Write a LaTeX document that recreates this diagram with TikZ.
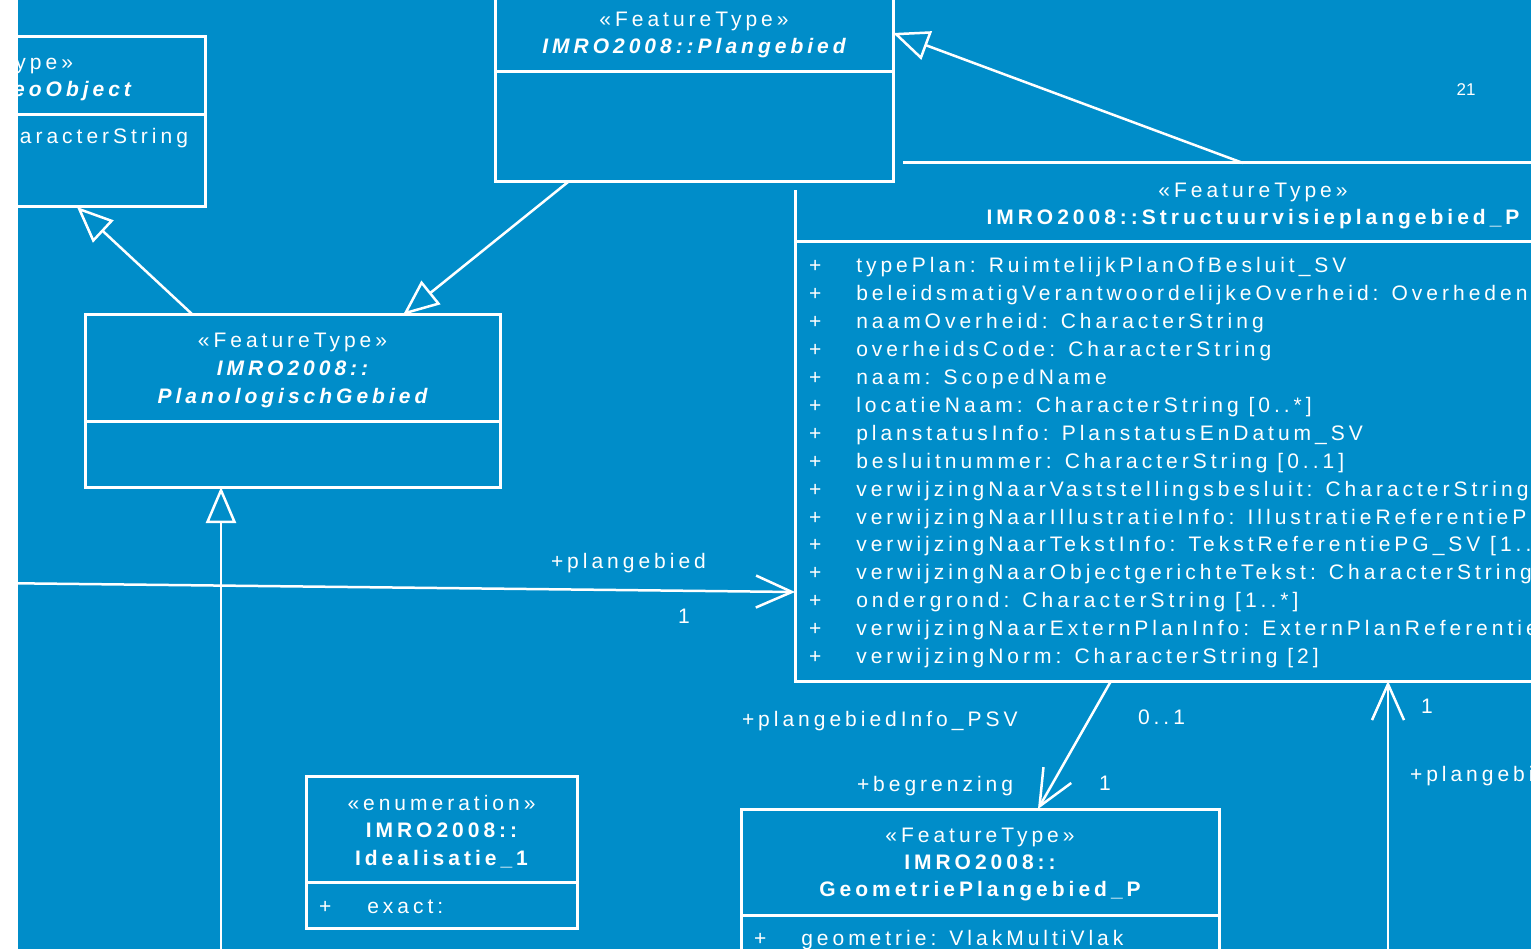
\documentclass[tikz,border=0pt]{standalone}
\usepackage{fontspec}
\usepackage{tikz}
\usetikzlibrary{arrows.meta}
\newfontfamily\umlfont{Liberation Sans}[LetterSpace=19]
\newfontfamily\pagefont{Liberation Sans}
\definecolor{umlblue}{RGB}{0,141,201}

\begin{document}
\begin{tikzpicture}[x=1pt,y=-1pt,>={Straight Barb[length=36pt,width=32pt]},
    every node/.style={inner sep=0pt,outer sep=0pt,text=white,font=\umlfont\fontsize{21}{27.9}\selectfont},
    umlbox/.style={draw=white,line width=3pt,fill=umlblue,anchor=north west},
    stereo/.style={anchor=base},
    clsname/.style={anchor=base,font=\umlfont\fontsize{21}{27.9}\selectfont\bfseries},
    absname/.style={anchor=base,font=\umlfont\fontsize{21}{27.9}\selectfont\bfseries\itshape},
    divider/.style={draw=white,line width=3pt},
    assoc/.style={draw=white,line width=2.5pt},
    gen/.style={assoc,-{Triangle[open,length=36pt,width=30pt]}},
    role/.style={anchor=base west}]
  \useasboundingbox (0,0) rectangle (1531,949);
  \fill[white] (0,0) rectangle (1531,949);
  \begin{scope}
    \clip (18,0) rectangle (1531,949);
    \fill[umlblue] (18,0) rectangle (1531,949);

    % Structuurvisieplangebied_P
    \node[umlbox,minimum width=916pt,minimum height=518pt] (structuur) at (795,163) {};
    \draw[divider] (structuur.west |- 0,242) -- (structuur.east |- 0,242);
    \node[stereo] (structuurst) at (1253,198) {«FeatureType»};
    \node[clsname] (structuurnm) at (1253,225) {IMRO2008::Structuurvisieplangebied\_P};
    \node[anchor=base west] (structuurattr) at (809,273) {
      \begin{tabular}[t]{@{}l@{\hspace{35pt}}l@{}}
        + & typePlan: RuimtelijkPlanOfBesluit\_SV\\
        + & beleidsmatigVerantwoordelijkeOverheid: Overheden\\
        + & naamOverheid: CharacterString\\
        + & overheidsCode: CharacterString\\
        + & naam: ScopedName\\
        + & locatieNaam: CharacterString [0..*]\\
        + & planstatusInfo: PlanstatusEnDatum\_SV\\
        + & besluitnummer: CharacterString [0..1]\\
        + & verwijzingNaarVaststellingsbesluit: CharacterString [0..1]\\
        + & verwijzingNaarIllustratieInfo: IllustratieReferentiePG\_SV\\
        + & verwijzingNaarTekstInfo: TekstReferentiePG\_SV [1..*]\\
        + & verwijzingNaarObjectgerichteTekst: CharacterString\\
        + & ondergrond: CharacterString [1..*]\\
        + & verwijzingNaarExternPlanInfo: ExternPlanReferentie\\
        + & verwijzingNorm: CharacterString [2]\\
      \end{tabular}
    };

    % Plangebied ligt boven de hoek van Structuurvisieplangebied_P
    \fill[umlblue] (485,-30) rectangle (903,190);
    \node[umlbox,minimum width=398pt,minimum height=212pt] (plangebied) at (495,-30) {};
    \draw[divider] (plangebied.west |- 0,72) -- (plangebied.east |- 0,72);
    \node[stereo] (plangebiedst) at (694,27) {«FeatureType»};
    \node[absname] (plangebiednm) at (694,54) {IMRO2008::Plangebied};

    % GeoObject
    \node[umlbox,minimum width=442pt,minimum height=170pt] (geoobject) at (-237,37) {};
    \draw[divider] (geoobject.west |- 0,115) -- (geoobject.east |- 0,115);
    \node[anchor=base east] (geoobjectst) at (73,70) {«FeatureType»};
    \node[absname,anchor=base east] (geoobjectnm) at (131,97) {IMRO2008::GeoObject};
    \node[anchor=base east] (geoobjectattr) at (188,144) {CharacterString};

    % PlanologischGebied
    \node[umlbox,minimum width=415pt,minimum height=172pt] (planol) at (85,315) {};
    \draw[divider] (planol.west |- 0,421) -- (planol.east |- 0,421);
    \node[stereo] (planolst) at (292.5,348) {«FeatureType»};
    \node[absname] (planolnma) at (292.5,375) {IMRO2008::};
    \node[absname] (planolnmb) at (292.5,403) {PlanologischGebied};

    % Idealisatie_1
    \node[umlbox,minimum width=271pt,minimum height=152pt] (ideal) at (306,776) {};
    \draw[divider] (ideal.west |- 0,882) -- (ideal.east |- 0,882);
    \node[stereo] (idealst) at (441.5,810) {«enumeration»};
    \node[clsname] (idealnma) at (441.5,837) {IMRO2008::};
    \node[clsname] (idealnmb) at (441.5,865) {Idealisatie\_1};
    \node[anchor=base west] (idealattr) at (319,913) {+\hspace{36pt}exact:};

    % GeometriePlangebied_P
    \node[umlbox,minimum width=478pt,minimum height=200pt] (geometrie) at (741,809) {};
    \draw[divider] (geometrie.west |- 0,915) -- (geometrie.east |- 0,915);
    \node[stereo] (geometriest) at (980,842) {«FeatureType»};
    \node[clsname] (geometrienma) at (980,869) {IMRO2008::};
    \node[clsname] (geometrienmb) at (980,896) {GeometriePlangebied\_P};
    \node[anchor=base west] (geometrieattr) at (754,945) {+\hspace{35pt}geometrie: VlakMultiVlak};

    % vrije uiteinden buiten beeld
    \coordinate (assocleft) at (-10,583);
    \coordinate (genbottom) at (221,960);
    \coordinate (assocbottom) at (1388,960);

    % generalisaties
    \draw[gen] ([xshift=-10pt]structuur.north) -- ([yshift=43pt]plangebied.east);
    \draw[gen] ([xshift=-99.5pt]planol.north) -- ([xshift=-128pt]geoobject.south east);
    \draw[gen] ([xshift=-126pt]plangebied.south) -- ([xshift=110.5pt]planol.north);
    \draw[gen] (genbottom) -- ([xshift=-71.5pt]planol.south);

    % associaties
    \draw[assoc,->] (assocleft) -- ([yshift=-170pt]structuur.west);
    \draw[assoc,->] ([xshift=-142pt]structuur.south) -- ([xshift=58pt]geometrie.north);
    \draw[assoc,->] (assocbottom) -- ([xshift=135pt]structuur.south);

    \node[role] (plangebiedrole) at (551,568) {+plangebied};
    \node[anchor=base] (plangebiedmult) at (684,623) {1};
    \node[role] (infopsvrole) at (742,726) {+plangebiedInfo\_PSV};
    \node[role] (infopsvmult) at (1138,724) {0..1};
    \node[role] (begrenzingrole) at (857,791) {+begrenzing};
    \node[anchor=base] (begrenzingmult) at (1105,790) {1};
    \node[anchor=base] (plangebiedbmult) at (1427,713) {1};
    \node[role] (plangebiedbrole) at (1410,781) {+plangebied};
    \node[anchor=base,font=\pagefont\fontsize{17}{20}\selectfont] (pagenum) at (1466,96) {21};
  \end{scope}
\end{tikzpicture}
\end{document}
